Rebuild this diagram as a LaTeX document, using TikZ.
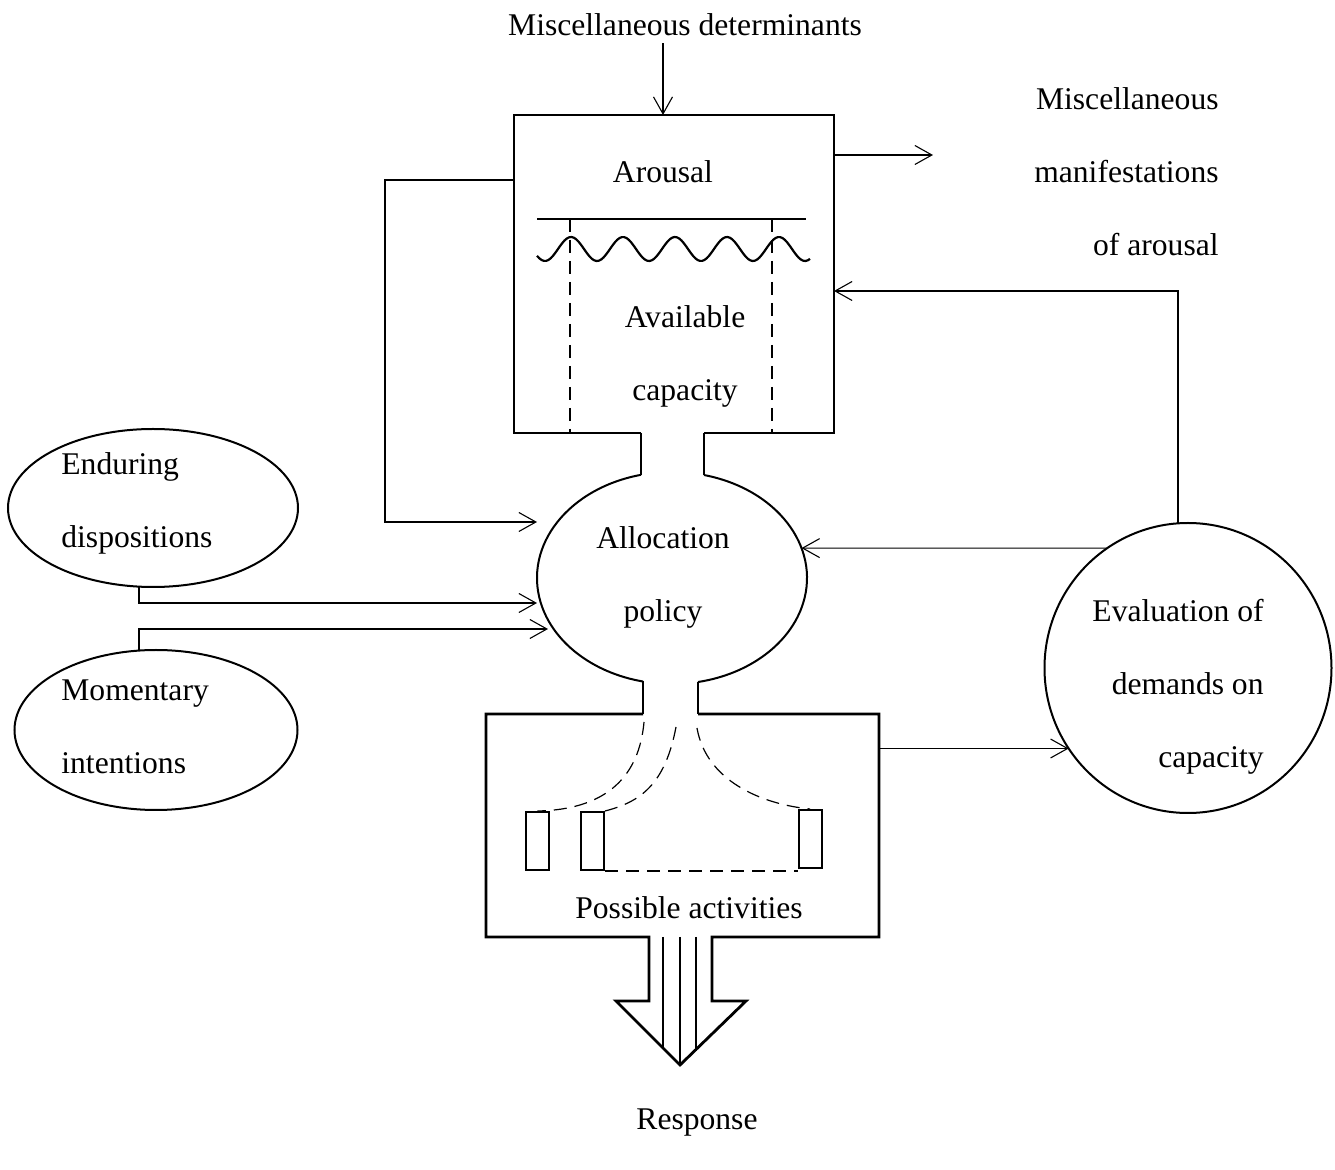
\documentclass[tikz,border=0pt]{standalone}
\usepackage{fontspec}
\setmainfont{Liberation Serif}
\usepackage{tikz}
\usetikzlibrary{arrows.meta,shapes.geometric}

\begin{document}
\begin{tikzpicture}[
  x=0.5pt, y=-0.5pt,
  every node/.style = {font=\fontsize{15.8}{36.5}\selectfont},
  arr/.style = {-{Straight Barb[length=8.5pt,width=9.5pt]}, line width=0.55pt},
  thinline/.style = {line width=0.55pt},
  dashline/.style = {line width=0.6pt, dash pattern=on 6.5pt off 4pt},
  boxline/.style = {line width=1.4pt, line join=miter},
  ovalline/.style = {line width=1pt},
  framebox/.style = {inner sep=0pt, outer sep=0pt},
  ovalbox/.style = {ellipse, draw, line width=1pt, inner sep=0pt, outer sep=0pt},
  sidetext/.style = {inner xsep=0pt},
  actrect/.style = {draw, line width=1pt, inner sep=0pt, minimum width=11.5pt,
                    minimum height=29pt},
]
\useasboundingbox (0,0) rectangle (1335,1170);

% Arousal box
\node (detlbl) at (685,25) {Miscellaneous determinants};
\node[framebox, minimum width=160pt, minimum height=159pt] (arousalbox) at (674,274) {};
\coordinate (neckTL) at (641,433);
\coordinate (neckTR) at (704,433);
\draw[boxline] (neckTL) -| (arousalbox.north west) -| (arousalbox.south east) -- (neckTR);
\node (arousal) at (663,172) {Arousal};
\draw[thinline] (537,219) -- (806,219);
\draw[line width=1.1pt] plot[domain=537:810, samples=120, smooth]
  ({\x}, {249+12*cos(6.9231*(\x-545))});
\draw[dashline] (570,219) -- (570,433);
\draw[dashline] (772,219) -- (772,433);
\node[align=center] (avail) at (685,356) {Available\\capacity};

% Allocation policy
\node[framebox, ellipse, minimum width=135pt, minimum height=106pt] (alloc) at (672,578) {};
\node[align=center] (alloctxt) at (663,577) {Allocation\\policy};
\draw[ovalline] (alloc.center) ++(256.7:135 and 106)
  arc[start angle=256.7, end angle=102.4, x radius=135, y radius=106];
\draw[ovalline] (alloc.center) ++(-76.3:135 and 106)
  arc[start angle=-76.3, end angle=78.9, x radius=135, y radius=106];
\draw[thinline] (neckTL) -- ++(0,42);
\draw[thinline] (neckTR) -- ++(0,42);

% Possible activities box
\coordinate (neckBL) at (643,714);
\coordinate (neckBR) at (698,714);
\draw[thinline] (neckBL) -- ++(0,-32.5);
\draw[thinline] (neckBR) -- ++(0,-32);
\node[framebox, minimum width=196.5pt, minimum height=111.5pt] (actbox) at (682.5,825.5) {};
\draw[boxline] (neckBL) -| (actbox.south west) -- (649,937) -- (649,1001) -- (616,1001)
  -- (680,1065) -- (746,1001) -- (712,1001) -- (712,937) -| (actbox.north east) -- (neckBR);
\draw[thinline] (663,937) -- (663,1048);
\draw[thinline] (680,937) -- (680,1065);
\draw[thinline] (696,937) -- (696,1051);
\node (acttxt) at (689,908) {Possible activities};
\node[actrect] (act1) at (537.5,841) {};
\node[actrect] (act2) at (592.5,841) {};
\node[actrect] (act3) at (810,839) {};
\coordinate (fan1) at (644,722);
\coordinate (fan2) at (676,727);
\coordinate (fan3) at (697,728);
\draw[dashline] (fan1) .. controls (638,790) and (590,810) .. (act1.north);
\draw[dashline] (fan2) .. controls (665,785) and (640,802) .. (act2.north east);
\draw[dashline] (fan3) .. controls (706,780) and (760,804) .. (act3.north);
\draw[dashline] (act2.south east) -- (act2.south east -| act3.west);
\node (resp) at (697,1123) {Response};

% Left inputs
\node[ovalbox, minimum width=145pt, minimum height=79pt] (endur) at (153,508) {};
\node[sidetext, anchor=west, align=left] (endurtxt) at (61,503.5) {Enduring\\dispositions};
\node[ovalbox, minimum width=141.5pt, minimum height=80pt] (moment) at (156,730) {};
\node[sidetext, anchor=west, align=left] (momenttxt) at (61,726.5) {Momentary\\intentions};

% Evaluation
\node[ovalbox, minimum width=143.5pt, minimum height=145pt] (evalc) at (1188,668) {};
\node[sidetext, anchor=east, align=right] (evaltxt) at (1264,686.5) {Evaluation of\\demands on\\capacity};
\node[sidetext, anchor=east, align=right] (manifest) at (1219,172)
  {Miscellaneous\\manifestations\\of arousal};

% Arrows
\coordinate (manif) at (933,155);
\coordinate (fbT) at (385,180);
\coordinate (fbB) at (537,522);
\coordinate (inE) at (537,603);
\coordinate (inM) at (548,629);
\coordinate (inA) at (834,291);
\draw[arr] ([xshift=-11pt]detlbl.south) -- ([xshift=-11pt]detlbl.south |- arousalbox.north);
\draw[arr] (arousalbox.east |- manif) -- (manif);
\draw[arr] (arousalbox.west |- fbT) -- (fbT) |- (fbB);
\draw[arr] ([xshift=-7pt]endur.south) |- (inE);
\draw[arr] ([xshift=-8.5pt]moment.north) |- (inM);
\draw[arr] (evalc.124) -- (alloc.13);
\draw[arr] ([xshift=-5pt]evalc.north) |- (inA);
\draw[arr] (actbox.east |- evalc.214) -- (evalc.214);
\end{tikzpicture}
\end{document}
